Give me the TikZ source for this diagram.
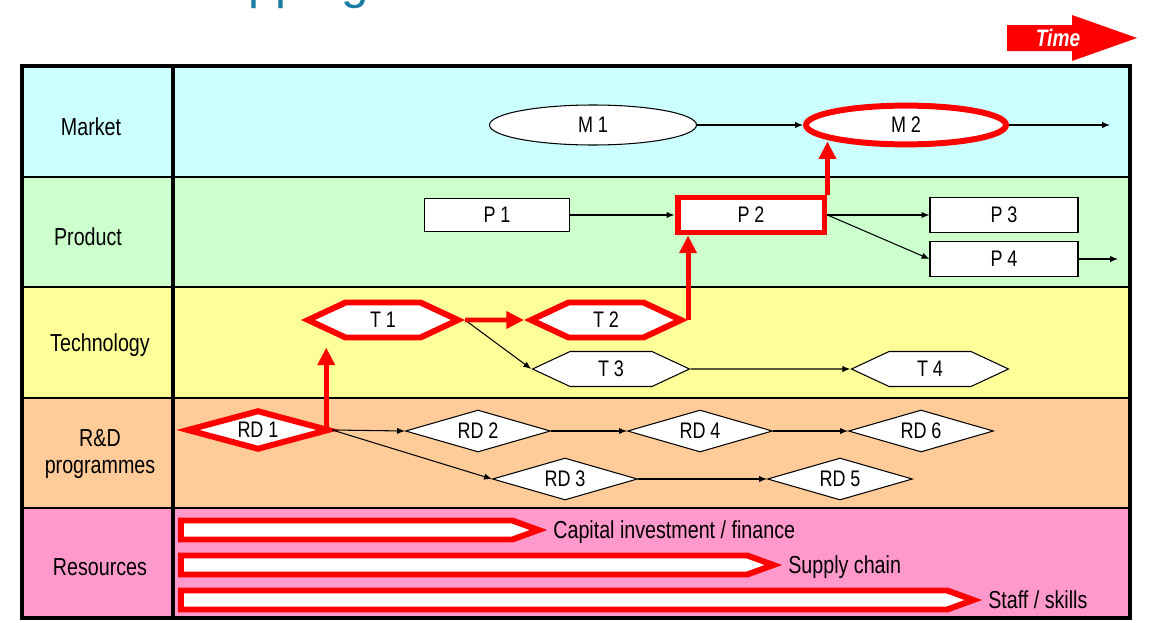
\documentclass[tikz,border=0pt]{standalone}
\usepackage{fontspec}
\setmainfont{Liberation Sans}[FakeStretch=0.8]
\newfontfamily\titlefont{Liberation Sans}
\usepackage{tikz}
\usetikzlibrary{shapes.geometric,shapes.symbols,arrows.meta,positioning,calc}
\definecolor{marketbg}{HTML}{CCFFFF}
\definecolor{productbg}{HTML}{CCFFCC}
\definecolor{techbg}{HTML}{FFFF99}
\definecolor{rndbg}{HTML}{FFCC99}
\definecolor{resbg}{HTML}{FF99CC}
\definecolor{titleblue}{HTML}{1A7BA3}

\begin{document}
\begin{tikzpicture}[x=0.02cm,y=-0.02cm,
    lbl/.style={font=\fontsize{14}{15.5}\selectfont},
    inlbl/.style={font=\fontsize{12.8}{14}\selectfont},
    thinbox/.style={draw=black,fill=white,line width=0.6pt,inlbl},
    redbox/.style={draw=red,fill=white,line width=3.4pt,inlbl},
    thinarr/.style={-{Latex[length=4.5pt,width=3.6pt]},line width=0.6pt},
    redarr/.style={draw=red,line width=2.8pt,-{Triangle[length=10pt,width=9.5pt]}},
    hexa/.style={signal,signal to=east and west,signal pointer angle=50,minimum width=3cm,minimum height=0.7cm,inner sep=0pt},
    dia/.style={diamond,aspect=3.6,minimum width=2.9cm,minimum height=0.84cm,inner sep=0pt},
    res/.style={signal,signal to=east,signal from=nowhere,signal pointer angle=40,minimum height=0.38cm,inner sep=0pt,draw=red,fill=white,line width=3.4pt,anchor=west}]
        \useasboundingbox (0,0) rectangle (1156,622);
        \clip (0,0) rectangle (1156,622);
        \fill[white] (0,0) rectangle (1156,622);
        % title (cut off)
        \node[anchor=base west,inner sep=0pt,text=titleblue,font=\titlefont\fontsize{28}{30}\selectfont] (title) at (248,-2) {pping};
        % time arrow
        \fill[red] (1007,25) -- (1072,25) -- (1072,15) -- (1137,38) -- (1072,61) -- (1072,51) -- (1007,51) -- cycle;
        \node[text=white,font=\bfseries\itshape\fontsize{13.6}{15}\selectfont] (time) at (1058,38) {Time};
        % rows
        \fill[marketbg] (22,66) rectangle (1130,177);
        \fill[productbg] (22,177) rectangle (1130,287);
        \fill[techbg] (22,287) rectangle (1130,398);
        \fill[rndbg] (22,398) rectangle (1130,508);
        \fill[resbg] (22,508) rectangle (1130,618);
        %grid
        \draw[line width=1.6pt] (22,177) -- (1130,177) (22,287) -- (1130,287) (22,398) -- (1130,398) (22,508) -- (1130,508);
        \draw[line width=1.8pt] (173,66) -- (173,618);
        \draw[line width=1.8pt] (22,66) rectangle (1130,618);
        \node[lbl] (market) at (91,127) {Market};
        \node[lbl] (product) at (88,237) {Product};
        \node[lbl] (tech) at (100,345) {Technology};
        \node[lbl,align=center] (rnd) at (100,454) {R\&D\\programmes};
        \node[lbl] (resources) at (100,567) {Resources};
        % market
        \node[ellipse,thinbox,minimum width=4.14cm,minimum height=0.8cm] (M1) at (593,125) {M 1};
        \node[ellipse,redbox,minimum width=4.0cm,minimum height=0.76cm] (M2) at (906,125) {M 2};
        \coordinate (Mend) at (1110,125);
        \draw[thinarr] (M1) -- (M2);
        \draw[thinarr] (M2) -- (Mend);
        % product
        \node[thinbox,minimum width=2.9cm,minimum height=0.66cm] (P1) at (497,215) {P 1};
        \node[redbox,minimum width=2.94cm,minimum height=0.7cm] (P2) at (751,215) {P 2};
        \node[thinbox,minimum width=2.96cm,minimum height=0.7cm] (P3) at (1004,215) {P 3};
        \node[thinbox,minimum width=2.96cm,minimum height=0.7cm] (P4) at (1004,259) {P 4};
        \coordinate (Pend) at (1118,259);
        \draw[thinarr] (P1) -- (P2);
        \draw[thinarr] (P2.east) -- (P3.west);
        \draw[thinarr] (P2.east) -- (P4.west);
        \draw[thinarr] (P4) -- (Pend);
        % technology
        \node[hexa,redbox] (T1) at (383,320) {T 1};
        \node[hexa,redbox] (T2) at (606,320) {T 2};
        \node[hexa,thinbox,minimum width=3.14cm] (T3) at (611,369) {T 3};
        \node[hexa,thinbox,minimum width=3.14cm] (T4) at (930,369) {T 4};
        \draw[thinarr] (T1.east) -- (T3.west);
        \draw[thinarr] (T3) -- (T4);
        % R&D
        \node[dia,redbox,minimum width=2.85cm,minimum height=0.8cm] (RD1) at (258,430) {RD 1};
        \node[dia,thinbox] (RD2) at (478,431) {RD 2};
        \node[dia,thinbox] (RD4) at (700,431) {RD 4};
        \node[dia,thinbox] (RD6) at (921,431) {RD 6};
        \node[dia,thinbox] (RD3) at (565,479) {RD 3};
        \node[dia,thinbox] (RD5) at (840,479) {RD 5};
        \draw[thinarr] (RD1.east) -- (RD2.west);
        \draw[thinarr] (RD1.east) -- (RD3.west);
        \draw[thinarr] (RD2.east) -- (RD4.west);
        \draw[thinarr] (RD4.east) -- (RD6.west);
        \draw[thinarr] (RD3.east) -- (RD5.west);
        % red path
        \draw[redarr,shorten >=0.14cm] ([xshift=-0.12cm]RD1.east) -- ([xshift=-0.12cm]RD1.east |- T1.south);
        \draw[redarr] (T1) -- (T2);
        \draw[redarr] (T2.east) -- (T2.east |- P2.south);
        \draw[redarr,shorten >=-0.12cm] (P2.north east) -- (P2.north east |- M2.south);
        % resources
        \node[res,minimum width=7.15cm] (R1) at (178,530) {};
        \node[lbl,right=0pt of R1,yshift=-0.04cm] (capital) {Capital investment / finance};
        \node[res,minimum width=11.85cm] (R2) at (178,565) {};
        \node[lbl,right=0pt of R2,yshift=-0.05cm] (supply) {Supply chain};
        \node[res,minimum width=15.85cm] (R3) at (178,600) {};
        \node[lbl,right=0pt of R3] (staff) {Staff / skills};
\end{tikzpicture}
\end{document}
